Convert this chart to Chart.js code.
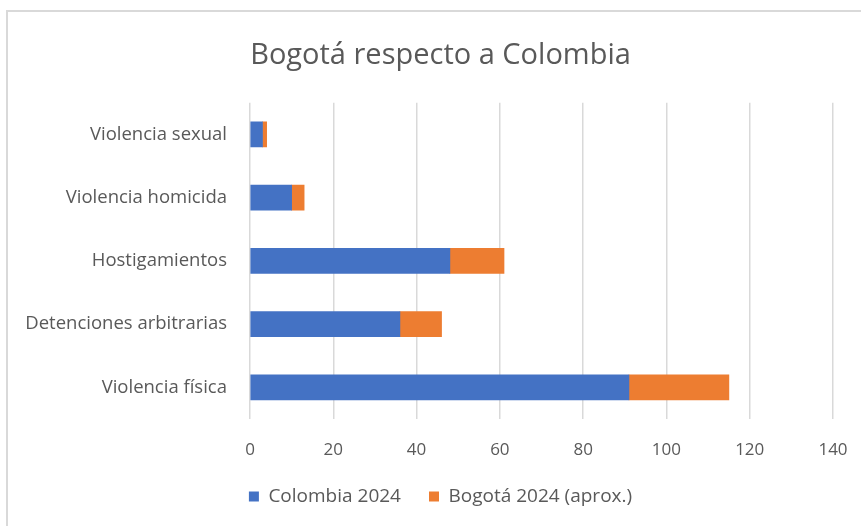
<!DOCTYPE html>
<html>
<head>
<meta charset="utf-8">
<script src="https://cdn.jsdelivr.net/npm/chart.js@4"></script>
<style>
  html, body { margin: 0; padding: 0; background: #fff; overflow: hidden; }
  #frame { position: absolute; left: 6px; top: 10px; width: 900px; height: 600px; border: 2px solid #d9d9d9; }
  #wrap { position: absolute; left: 0; top: 0; width: 861px; height: 526px; }
</style>
</head>
<body>
<div id="frame"></div>
<div id="wrap"><canvas id="chart"></canvas></div>
<script>
// ===== DATA =====
const categories = ['Violencia sexual', 'Violencia homicida', 'Hostigamientos', 'Detenciones arbitrarias', 'Violencia física'];
const colombia2024 = [3, 10, 48, 36, 91];
const bogota2024 = [1, 3, 13, 10, 24];
const xTicks = [0, 20, 40, 60, 80, 100, 120, 140];

const textColor = '#595959';
const fontFamily = '"Open Sans", "Noto Sans", sans-serif';

// title and legend sit centred on the whole frame, not on the canvas minus padding
const centerShift = {
  id: 'centerShift',
  afterLayout(chart) {
    [chart.titleBlock, chart.legend].forEach(b => {
      if (!b) return;
      b.left += 24;
      b.right += 24;
    });
  }
};

// ===== CHART =====
const ctx = document.getElementById('chart');
new Chart(ctx, {
  type: 'bar',
  data: {
    labels: categories,
    datasets: [
      { label: 'Colombia 2024', data: colombia2024, backgroundColor: '#4472C4', barThickness: 25 },
      { label: 'Bogotá 2024 (aprox.)', data: bogota2024, backgroundColor: '#ED7D31', barThickness: 25 }
    ]
  },
  options: {
    indexAxis: 'y',
    responsive: true,
    maintainAspectRatio: false,
    animation: false,
    layout: { padding: { top: 8, right: 28, bottom: 10, left: 0 } },
    plugins: {
      title: {
        display: true,
        text: 'Bogotá respecto a Colombia',
        color: textColor,
        font: { family: fontFamily, size: 29, weight: 'normal' },
        padding: { top: 30, bottom: 30 }
      },
      legend: {
        position: 'bottom',
        labels: {
          color: textColor,
          font: { family: fontFamily, size: 19 },
          boxWidth: 10,
          boxHeight: 10,
          padding: 28
        }
      },
      tooltip: { enabled: false }
    },
    scales: {
      x: {
        stacked: true,
        min: 0,
        max: 140,
        afterBuildTicks: scale => { scale.ticks = xTicks.map(v => ({ value: v })); },
        afterFit: scale => { scale.height = 40; scale.paddingRight = 0; },
        ticks: { color: textColor, font: { family: fontFamily, size: 17 }, padding: 21 },
        grid: { color: '#d9d9d9', lineWidth: 1.5, drawTicks: false },
        border: { display: false }
      },
      y: {
        stacked: true,
        afterFit: scale => { scale.width = 250; },
        ticks: { color: textColor, font: { family: fontFamily, size: 18.5 }, padding: 23 },
        grid: { display: false, drawTicks: false },
        border: { display: false }
      }
    }
  },
  plugins: [centerShift]
});
</script>
</body>
</html>
